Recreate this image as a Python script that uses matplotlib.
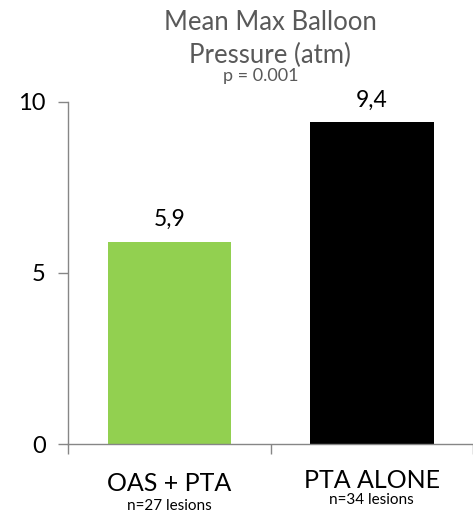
import matplotlib.pyplot as plt

categories = ["OAS + PTA", "PTA ALONE"]
sublabels = ["n=27 lesions", "n=34 lesions"]
values = [5.9, 9.4]
value_labels = ["5,9", "9,4"]
colors = ["#92d050", "#000000"]
yticks = [0, 5, 10]

plt.rcParams['font.family'] = ['Lato', 'DejaVu Sans']

fig = plt.figure(figsize=(4.73, 5.17), dpi=100)
ax = fig.add_axes([0.144, 0.141, 0.856, 0.662])

x = range(len(categories))
ax.bar(x, values, width=0.61, color=colors, zorder=2)
for i, v in enumerate(values):
    ax.text(i, v + 0.35, value_labels[i], ha='center', va='bottom', fontsize=16.5, color='black')

ax.set_xlim(-0.5, 1.5)
ax.set_ylim(0, 10)
ax.set_yticks(yticks)
ax.set_yticklabels([str(t) for t in yticks], fontsize=17)
ax.tick_params(axis='y', length=7, width=1, color='#868686', pad=9)

ax.set_xticks([-0.5, 0.5, 1.5])
ax.set_xticklabels([])
ax.tick_params(axis='x', length=7, width=1, color='#868686')

for s in ['top', 'right']:
    ax.spines[s].set_visible(False)
for s in ['left', 'bottom']:
    ax.spines[s].set_color('#868686')
    ax.spines[s].set_linewidth(1)

# category labels under the axis
ax.text(0, -1.14, categories[0], ha='center', va='center', fontsize=18)
ax.text(0, -1.8, sublabels[0], ha='center', va='center', fontsize=11)
ax.text(1, -1.05, categories[1], ha='center', va='center', fontsize=18)
ax.text(1, -1.62, sublabels[1], ha='center', va='center', fontsize=11)

fig.text(270 / 473, 1 - 22 / 517, "Mean Max Balloon", ha='center', va='center', fontsize=18.5, color='#595959')
fig.text(270 / 473, 1 - 55 / 517, "Pressure (atm)", ha='center', va='center', fontsize=18.5, color='#595959')
fig.text(261 / 473, 1 - 76 / 517, "p = 0.001", ha='center', va='center', fontsize=13, color='#595959')

fig.savefig("out.png", dpi=100)
